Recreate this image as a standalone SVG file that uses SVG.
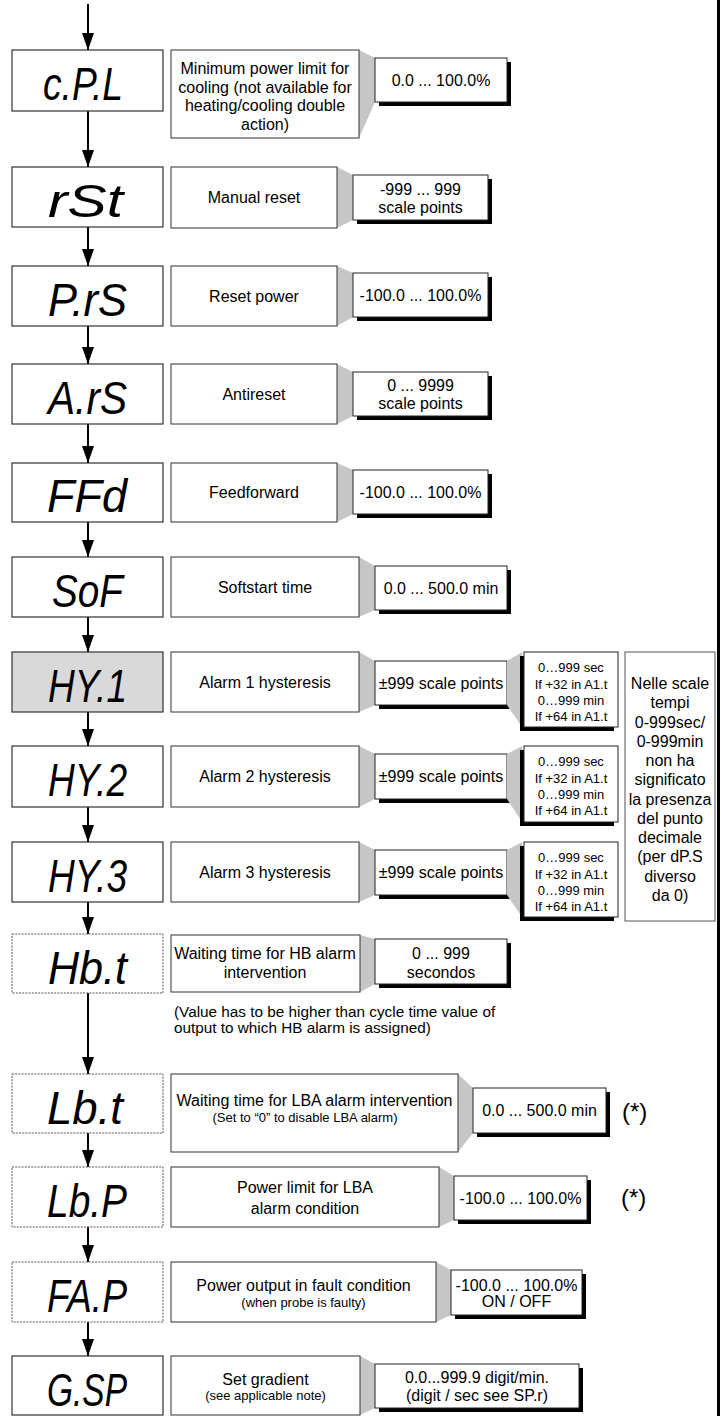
<svg xmlns="http://www.w3.org/2000/svg" width="722" height="1416" viewBox="0 0 722 1416">
<style>
.disp{fill:#fff;stroke:#333;stroke-width:1.2}
.grey{fill:#d9d9d9}
.dash{stroke:#555;stroke-width:1;stroke-dasharray:2 1.2}
.desc{fill:#fff;stroke:#333;stroke-width:1}
.val{fill:#fff;stroke:#222;stroke-width:1}
.note{fill:#fff;stroke:#555;stroke-width:1}
.shd{fill:#000}
.wedge{fill:#c6c6c6}
.seg{font-family:"Liberation Sans",Arial,sans-serif;font-style:italic;font-size:46px;fill:#000}
.t{font-family:"Liberation Sans",Arial,sans-serif;font-size:16px;fill:#000;text-anchor:middle}
.s{font-size:13px}
.n{font-family:"Liberation Sans",Arial,sans-serif;font-size:15.3px;fill:#000}
.star{font-family:"Liberation Sans",Arial,sans-serif;font-size:24px;fill:#000}
.conn{stroke:#000;stroke-width:2;fill:none}
</style>
<defs>
<marker id="ah" markerUnits="userSpaceOnUse" markerWidth="17" markerHeight="12" refX="17" refY="6" orient="auto">
<path d="M0,0 L17,6 L0,12 z" fill="#000"/>
</marker>
</defs>
<rect x="717" y="0" width="3" height="1416" fill="#000"/>
<g id="connectors">
<line class="conn" x1="88" y1="4" x2="88" y2="50" marker-end="url(#ah)"/>
<line class="conn" x1="88" y1="111" x2="88" y2="167" marker-end="url(#ah)"/>
<line class="conn" x1="88" y1="227" x2="88" y2="266" marker-end="url(#ah)"/>
<line class="conn" x1="88" y1="326" x2="88" y2="364" marker-end="url(#ah)"/>
<line class="conn" x1="88" y1="424" x2="88" y2="463" marker-end="url(#ah)"/>
<line class="conn" x1="88" y1="522" x2="88" y2="557" marker-end="url(#ah)"/>
<line class="conn" x1="88" y1="617" x2="88" y2="652" marker-end="url(#ah)"/>
<line class="conn" x1="88" y1="712" x2="88" y2="746" marker-end="url(#ah)"/>
<line class="conn" x1="88" y1="807" x2="88" y2="842" marker-end="url(#ah)"/>
<line class="conn" x1="88" y1="902" x2="88" y2="934" marker-end="url(#ah)"/>
<line class="conn" x1="88" y1="993" x2="88" y2="1074" marker-end="url(#ah)"/>
<line class="conn" x1="88" y1="1133" x2="88" y2="1167" marker-end="url(#ah)"/>
<line class="conn" x1="88" y1="1227" x2="88" y2="1262" marker-end="url(#ah)"/>
<line class="conn" x1="88" y1="1322" x2="88" y2="1356" marker-end="url(#ah)"/>
</g>

<g id="cPL">
<rect class="disp" x="12" y="50" width="151" height="61"/>
<text class="seg" x="43" y="100" textLength="80" lengthAdjust="spacingAndGlyphs">c.P.L</text>
<polygon class="wedge" points="359,50 375,58 375,102 359,138"/>
<rect class="desc" x="171" y="50" width="188" height="88"/>
<text class="t" x="265" y="74">Minimum power limit for</text>
<text class="t" x="265" y="92.5">cooling (not available for</text>
<text class="t" x="265" y="111">heating/cooling double</text>
<text class="t" x="265" y="129.5">action)</text>
<rect class="shd" x="379" y="62" width="132" height="44"/>
<rect class="val" x="375" y="58" width="132" height="44"/>
<text class="t" x="441" y="85.5">0.0 ... 100.0%</text>
</g>

<g id="rSt">
<rect class="disp" x="12" y="167" width="151" height="60"/>
<text class="seg" x="48" y="217" textLength="75" lengthAdjust="spacingAndGlyphs">rSt</text>
<polygon class="wedge" points="337,167 353,175 353,220 337,228"/>
<rect class="desc" x="171" y="167" width="166" height="61"/>
<text class="t" x="254" y="203">Manual reset</text>
<rect class="shd" x="357" y="179" width="135" height="45"/>
<rect class="val" x="353" y="175" width="135" height="45"/>
<text class="t" x="420.5" y="194.5">-999 ... 999</text>
<text class="t" x="420.5" y="212.5">scale points</text>
</g>

<g id="PrS">
<rect class="disp" x="12" y="266" width="151" height="60"/>
<text class="seg" x="48" y="316" textLength="79" lengthAdjust="spacingAndGlyphs">P.rS</text>
<polygon class="wedge" points="337,266 353,273 353,317 337,326"/>
<rect class="desc" x="171" y="266" width="166" height="60"/>
<text class="t" x="254" y="301.5">Reset power</text>
<rect class="shd" x="357" y="277" width="135" height="44"/>
<rect class="val" x="353" y="273" width="135" height="44"/>
<text class="t" x="420.5" y="300.5">-100.0 ... 100.0%</text>
</g>

<g id="ArS">
<rect class="disp" x="12" y="364" width="151" height="60"/>
<text class="seg" x="48" y="414" textLength="79" lengthAdjust="spacingAndGlyphs">A.rS</text>
<polygon class="wedge" points="337,364 353,372 353,416 337,424"/>
<rect class="desc" x="171" y="364" width="166" height="60"/>
<text class="t" x="254" y="399.5">Antireset</text>
<rect class="shd" x="357" y="376" width="135" height="44"/>
<rect class="val" x="353" y="372" width="135" height="44"/>
<text class="t" x="420.5" y="390.5">0 ... 9999</text>
<text class="t" x="420.5" y="409">scale points</text>
</g>

<g id="FFd">
<rect class="disp" x="12" y="463" width="151" height="59"/>
<text class="seg" x="47" y="512" textLength="80" lengthAdjust="spacingAndGlyphs">FFd</text>
<polygon class="wedge" points="337,463 353,470 353,514 337,522"/>
<rect class="desc" x="171" y="463" width="166" height="59"/>
<text class="t" x="254" y="498">Feedforward</text>
<rect class="shd" x="357" y="474" width="135" height="44"/>
<rect class="val" x="353" y="470" width="135" height="44"/>
<text class="t" x="420.5" y="497.5">-100.0 ... 100.0%</text>
</g>

<g id="SoF">
<rect class="disp" x="12" y="557" width="151" height="60"/>
<text class="seg" x="52" y="607" textLength="71" lengthAdjust="spacingAndGlyphs">SoF</text>
<polygon class="wedge" points="359,557 375,566 375,610 359,617"/>
<rect class="desc" x="171" y="557" width="188" height="60"/>
<text class="t" x="265" y="592.5">Softstart time</text>
<rect class="shd" x="379" y="570" width="132" height="44"/>
<rect class="val" x="375" y="566" width="132" height="44"/>
<text class="t" x="441" y="593.5">0.0 ... 500.0 min</text>
</g>

<g id="HY1">
<rect class="disp grey" x="12" y="652" width="151" height="60"/>
<text class="seg" x="48" y="702" textLength="79" lengthAdjust="spacingAndGlyphs">HY.1</text>
<polygon class="wedge" points="359,652 375,661 375,705 359,712"/>
<rect class="desc" x="171" y="652" width="188" height="60"/>
<text class="t" x="265" y="687.5">Alarm 1 hysteresis</text>
<rect class="shd" x="379" y="665" width="132" height="44"/>
<rect class="val" x="375" y="661" width="132" height="44"/>
<text class="t" x="441" y="688.5">±999 scale points</text>
<polygon class="wedge" points="507,661 522,652 522,727 507,705"/>
<rect class="shd" x="520" y="656" width="94" height="75"/>
<rect class="val" x="524" y="652" width="94" height="75"/>
<text class="t s" x="571" y="672">0…999 sec</text>
<text class="t s" x="571" y="688.5">If +32 in A1.t</text>
<text class="t s" x="571" y="704.5">0…999 min</text>
<text class="t s" x="571" y="720.5">If +64 in A1.t</text>
</g>

<g id="HY2">
<rect class="disp" x="12" y="746" width="151" height="61"/>
<text class="seg" x="48" y="796" textLength="79" lengthAdjust="spacingAndGlyphs">HY.2</text>
<polygon class="wedge" points="359,746 375,754 375,799 359,807"/>
<rect class="desc" x="171" y="746" width="188" height="61"/>
<text class="t" x="265" y="782">Alarm 2 hysteresis</text>
<rect class="shd" x="379" y="758" width="132" height="45"/>
<rect class="val" x="375" y="754" width="132" height="45"/>
<text class="t" x="441" y="782">±999 scale points</text>
<polygon class="wedge" points="507,754 522,746 522,822 507,799"/>
<rect class="shd" x="520" y="750" width="94" height="76"/>
<rect class="val" x="524" y="746" width="94" height="76"/>
<text class="t s" x="571" y="766">0…999 sec</text>
<text class="t s" x="571" y="782.5">If +32 in A1.t</text>
<text class="t s" x="571" y="798.5">0…999 min</text>
<text class="t s" x="571" y="814.5">If +64 in A1.t</text>
</g>

<g id="HY3">
<rect class="disp" x="12" y="842" width="151" height="60"/>
<text class="seg" x="48" y="892" textLength="79" lengthAdjust="spacingAndGlyphs">HY.3</text>
<polygon class="wedge" points="359,842 375,850 375,895 359,902"/>
<rect class="desc" x="171" y="842" width="188" height="60"/>
<text class="t" x="265" y="877.5">Alarm 3 hysteresis</text>
<rect class="shd" x="379" y="854" width="132" height="45"/>
<rect class="val" x="375" y="850" width="132" height="45"/>
<text class="t" x="441" y="878">±999 scale points</text>
<polygon class="wedge" points="507,850 522,842 522,917 507,895"/>
<rect class="shd" x="520" y="846" width="94" height="75"/>
<rect class="val" x="524" y="842" width="94" height="75"/>
<text class="t s" x="571" y="862">0…999 sec</text>
<text class="t s" x="571" y="878.5">If +32 in A1.t</text>
<text class="t s" x="571" y="894.5">0…999 min</text>
<text class="t s" x="571" y="910.5">If +64 in A1.t</text>
</g>

<g id="note-decimal">
<rect class="note" x="625" y="652" width="90" height="269"/>
<text class="t" x="670" y="689">Nelle scale</text>
<text class="t" x="670" y="708.2">tempi</text>
<text class="t" x="670" y="727.5">0-999sec/</text>
<text class="t" x="670" y="746.7">0-999min</text>
<text class="t" x="670" y="766">non ha</text>
<text class="t" x="670" y="785.2">significato</text>
<text class="t" x="670" y="804.5">la presenza</text>
<text class="t" x="670" y="823.7">del punto</text>
<text class="t" x="670" y="843">decimale</text>
<text class="t" x="670" y="862.2">(per dP.S</text>
<text class="t" x="670" y="881.5">diverso</text>
<text class="t" x="670" y="900.7">da 0)</text>
</g>

<g id="Hbt">
<rect class="disp dash" x="12" y="934" width="151" height="59"/>
<text class="seg" x="48" y="984" textLength="79" lengthAdjust="spacingAndGlyphs">Hb.t</text>
<polygon class="wedge" points="360,935 375,939 375,984 360,992"/>
<rect class="desc" x="171" y="935" width="189" height="57"/>
<text class="t" x="265" y="959">Waiting time for HB alarm</text>
<text class="t" x="265" y="978">intervention</text>
<rect class="shd" x="379" y="943" width="132" height="45"/>
<rect class="val" x="375" y="939" width="132" height="45"/>
<text class="t" x="441" y="958.5">0 ... 999</text>
<text class="t" x="441" y="977.5">secondos</text>
<text class="n" x="174" y="1017">(Value has to be higher than cycle time value of</text>
<text class="n" x="174" y="1033">output to which HB alarm is assigned)</text>
</g>

<g id="Lbt">
<rect class="disp dash" x="12" y="1074" width="151" height="59"/>
<text class="seg" x="47" y="1124" textLength="76" lengthAdjust="spacingAndGlyphs">Lb.t</text>
<polygon class="wedge" points="458,1074 473,1088 473,1133 458,1152"/>
<rect class="desc" x="171" y="1074" width="287" height="78"/>
<text class="t" x="314.5" y="1106">Waiting time for LBA alarm intervention</text>
<text class="t s" x="305" y="1121.5">(Set to “0” to disable LBA alarm)</text>
<rect class="shd" x="477" y="1092" width="133" height="45"/>
<rect class="val" x="473" y="1088" width="133" height="45"/>
<text class="t" x="539.5" y="1116">0.0 ... 500.0 min</text>
<text class="star" x="622" y="1120">(*)</text>
</g>

<g id="LbP">
<rect class="disp dash" x="12" y="1167" width="151" height="60"/>
<text class="seg" x="47" y="1217" textLength="80" lengthAdjust="spacingAndGlyphs">Lb.P</text>
<polygon class="wedge" points="439,1167 454,1176 454,1220 439,1227"/>
<rect class="desc" x="171" y="1167" width="268" height="60"/>
<text class="t" x="305" y="1192.5">Power limit for LBA</text>
<text class="t" x="305" y="1213.5">alarm condition</text>
<rect class="shd" x="458" y="1180" width="133" height="44"/>
<rect class="val" x="454" y="1176" width="133" height="44"/>
<text class="t" x="520.5" y="1203.5">-100.0 ... 100.0%</text>
<text class="star" x="621" y="1206">(*)</text>
</g>

<g id="FAP">
<rect class="disp dash" x="12" y="1262" width="151" height="60"/>
<text class="seg" x="47" y="1312" textLength="80" lengthAdjust="spacingAndGlyphs">FA.P</text>
<polygon class="wedge" points="436,1262 451,1270 451,1315 436,1322"/>
<rect class="desc" x="171" y="1262" width="265" height="60"/>
<text class="t" x="303.5" y="1290.5">Power output in fault condition</text>
<text class="t s" x="303.5" y="1307">(when probe is faulty)</text>
<rect class="shd" x="455" y="1274" width="131" height="45"/>
<rect class="val" x="451" y="1270" width="131" height="45"/>
<text class="t" x="516.5" y="1290.5">-100.0 ... 100.0%</text>
<text class="t" x="516.5" y="1307">ON / OFF</text>
</g>

<g id="GSP">
<rect class="disp" x="12" y="1356" width="151" height="59"/>
<text class="seg" x="47" y="1406" textLength="80" lengthAdjust="spacingAndGlyphs">G.SP</text>
<polygon class="wedge" points="360,1356 375,1364 375,1408 360,1415"/>
<rect class="desc" x="171" y="1356" width="189" height="59"/>
<text class="t" x="265.5" y="1385">Set gradient</text>
<text class="t s" x="265.5" y="1399.5">(see applicable note)</text>
<rect class="shd" x="379" y="1368" width="204" height="44"/>
<rect class="val" x="375" y="1364" width="204" height="44"/>
<text class="t" x="477" y="1383">0.0...999.9 digit/min.</text>
<text class="t" x="477" y="1400.5">(digit / sec see SP.r)</text>
</g>
</svg>
